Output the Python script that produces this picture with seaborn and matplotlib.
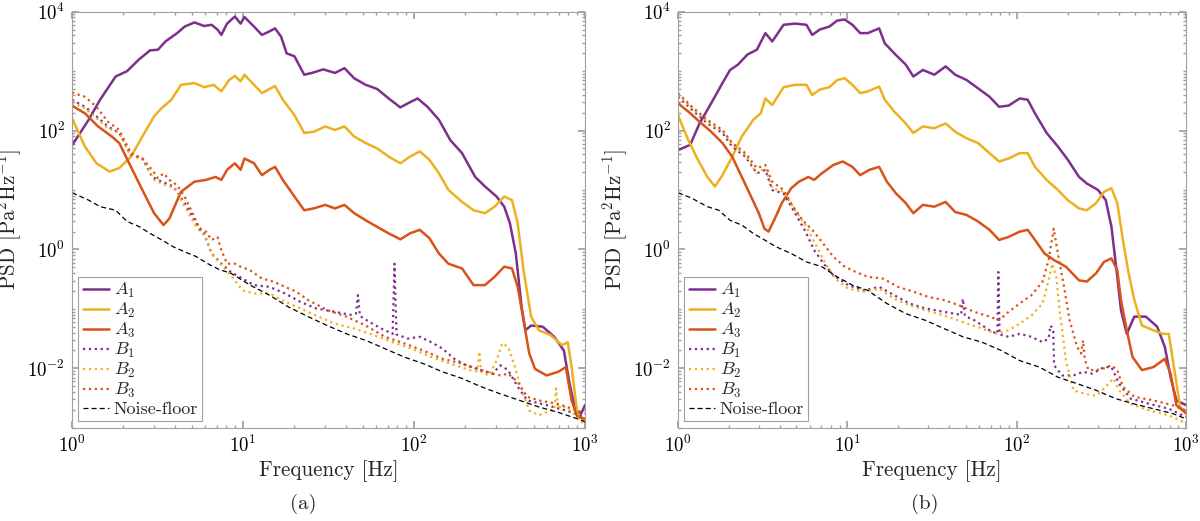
import numpy as np
import pandas as pd
import matplotlib
matplotlib.use("Agg")
import matplotlib.pyplot as plt
import seaborn as sns
from matplotlib.ticker import LogLocator, NullFormatter

# PSD curves, values as log10(PSD [Pa^2/Hz]) at freq [Hz]

# ---- panel (a)
a_A1_f = [1, 1.25, 1.46, 1.80, 2.10, 2.45, 2.86, 3.18, 3.52, 4.12, 4.56, 5.20, 5.92, 6.56, 7.09,
          7.47, 8.07, 8.96, 9.68, 10.2, 11.6, 12.9, 14.3, 15.4, 16.7, 18.0, 20.0, 22.8, 25.3, 29.5,
          34.5, 39.2, 44.7, 52.2, 60.9, 71.2, 83.2, 92.2, 105, 120, 140, 163, 191, 228, 260,
          304, 337, 364, 394, 426, 448, 484, 566, 661, 752, 813, 879, 950, 1000]
a_A1_p = [1.75, 2.18, 2.52, 2.91, 3.0, 3.19, 3.35, 3.36, 3.5, 3.64, 3.75, 3.82, 3.76, 3.78, 3.70,
          3.61, 3.80, 3.92, 3.80, 3.91, 3.75, 3.61, 3.67, 3.72, 3.58, 3.30, 3.25, 2.94, 2.97, 3.03,
          2.97, 3.05, 2.88, 2.77, 2.70, 2.54, 2.39, 2.46, 2.54, 2.40, 2.18, 1.84, 1.62, 1.22, 1.06,
          0.89, 0.72, 0.44, -0.07, -0.97, -1.36, -1.28, -1.30, -1.47, -1.70, -2.26, -2.71, -2.76, -2.62]

a_A2_f = [1, 1.19, 1.39, 1.66, 1.89, 2.21, 2.58, 3.02, 3.35, 3.81, 4.34, 5.20, 5.92, 6.73, 7.47,
          8.29, 8.96, 9.68, 10.2, 11.6, 12.9, 14.3, 15.4, 17.1, 20.0, 22.8, 25.9, 30.3, 34.5, 39.2,
          44.7, 52.2, 60.9, 71.2, 83.2, 94.6, 108, 123, 140, 159, 191, 223, 260, 296, 337,
          374, 404, 437, 484, 537, 628, 733, 793, 835, 902, 1000]
a_A2_p = [2.21, 1.73, 1.45, 1.31, 1.37, 1.56, 1.90, 2.24, 2.38, 2.52, 2.77, 2.80, 2.73, 2.77, 2.66,
          2.85, 2.92, 2.83, 2.94, 2.77, 2.63, 2.70, 2.75, 2.52, 2.26, 1.96, 1.98, 2.07, 2.01, 2.07,
          1.90, 1.79, 1.70, 1.56, 1.45, 1.56, 1.65, 1.51, 1.28, 1.0, 0.80, 0.66, 0.61, 0.72, 0.89,
          0.83, 0.44, -0.35, -1.13, -1.36, -1.44, -1.61, -1.56, -1.98, -2.76, -2.88]

a_A3_f = [1, 1.19, 1.42, 1.71, 1.89, 2.21, 2.58, 3.02, 3.43, 3.71, 4.34, 5.20, 6.07, 6.91, 7.47,
          8.07, 8.96, 9.68, 10.2, 11.6, 12.9, 14.3, 15.4, 17.1, 20.0, 22.8, 25.9, 30.3, 34.5, 39.2,
          44.7, 52.2, 60.9, 71.2, 83.2, 94.6, 108, 123, 140, 159, 191, 223, 260, 296, 337,
          374, 404, 437, 472, 510, 596, 696, 772, 835, 902, 1000]
a_A3_p = [2.42, 2.29, 2.07, 1.90, 1.79, 1.39, 1.0, 0.61, 0.41, 0.52, 0.97, 1.14, 1.17, 1.22, 1.17,
          1.34, 1.45, 1.34, 1.53, 1.45, 1.25, 1.34, 1.39, 1.17, 0.89, 0.66, 0.69, 0.75, 0.69, 0.75,
          0.61, 0.49, 0.38, 0.27, 0.17, 0.27, 0.33, 0.19, -0.07, -0.24, -0.32, -0.60, -0.60, -0.46, -0.29,
          -0.32, -0.63, -1.19, -1.75, -2.01, -2.12, -2.06, -1.98, -2.54, -2.82, -2.85]

a_B1_f = [1, 1.19, 1.39, 1.62, 1.89, 2.21, 2.58, 2.94, 3.35, 3.91, 4.56, 5.33, 5.92, 6.56, 7.47,
          8.50, 9.93, 11.6, 14.3, 17.6, 21.6, 26.6, 34.5, 42.4, 45.8, 47.0, 48.3, 54.9, 64.2, 75.0,
          76.9, 79.0, 92.2, 108, 126, 147, 172, 201, 247, 288, 320, 355, 404, 460, 596, 772, 1000]
a_B1_p = [2.52, 2.40, 2.24, 2.07, 1.96, 1.59, 1.53, 1.22, 1.14, 1.06, 0.78, 0.44, 0.27, -0.07, -0.24,
          -0.38, -0.49, -0.60, -0.63, -0.74, -0.88, -0.99, -1.05, -1.10, -1.08, -0.77, -1.12, -1.22, -1.33, -1.42,
          -0.24, -1.43, -1.50, -1.47, -1.56, -1.67, -1.84, -1.95, -2.03, -2.09, -1.95, -2.03, -2.31, -2.54, -2.62,
          -2.71, -2.82]

a_B2_f = [1, 1.19, 1.39, 1.62, 1.89, 2.21, 2.58, 3.02, 3.52, 4.01, 4.56, 5.33, 5.92, 6.73, 7.67,
          8.96, 9.93, 11.6, 14.3, 17.6, 21.6, 26.6, 34.5, 44.7, 57.9, 75.0, 97.1, 126, 163, 211,
          234, 241, 247, 274, 304, 328, 355, 384, 415, 472, 537, 628, 661, 678, 696, 733, 857, 1000]
a_B2_p = [2.47, 2.38, 2.21, 2.04, 1.96, 1.57, 1.52, 1.17, 1.08, 1.03, 0.72, 0.38, 0.24, -0.12, -0.29,
          -0.52, -0.69, -0.74, -0.74, -0.88, -0.99, -1.11, -1.25, -1.33, -1.44, -1.56, -1.67, -1.81, -1.92, -2.03,
          -2.05, -1.72, -2.06, -2.12, -1.87, -1.58, -1.64, -1.92, -2.26, -2.71, -2.79, -2.71, -2.70, -2.34, -2.68,
          -2.62, -2.76, -2.96]

a_B3_f = [1, 1.19, 1.39, 1.62, 1.89, 2.21, 2.58, 2.94, 3.18, 3.43, 3.71, 4.12, 4.56, 5.07, 5.62,
          6.07, 6.56, 7.09, 7.47, 8.07, 8.96, 9.68, 11.0, 12.9, 15.0, 17.6, 20.5, 24.0, 31.1, 40.3,
          52.2, 67.6, 87.6, 113, 147, 191, 247, 288, 320, 355, 404, 460, 537, 696, 902, 1000]
a_B3_p = [2.64, 2.57, 2.40, 2.15, 2.01, 1.62, 1.53, 1.34, 1.20, 1.28, 1.17, 1.08, 0.89, 0.61, 0.33,
          0.30, 0.16, 0.21, -0.01, -0.24, -0.24, -0.29, -0.35, -0.49, -0.54, -0.63, -0.71, -0.85, -1.02, -1.13,
          -1.28, -1.47, -1.58, -1.70, -1.84, -1.92, -2.03, -2.09, -2.12, -2.09, -2.23, -2.48, -2.54, -2.60, -2.71,
          -2.76]

a_N_f = [1, 1.25, 1.46, 1.80, 2.10, 2.45, 2.86, 3.35, 3.91, 4.56, 5.33, 6.23, 7.28, 8.50, 11.0,
         14.3, 18.5, 24.0, 31.1, 40.3, 52.2, 67.6, 87.6, 113, 147, 191, 247, 320, 415, 537,
         696, 902, 1000]
a_N_p = [0.955, 0.83, 0.72, 0.66, 0.47, 0.39, 0.27, 0.16, 0.045, -0.04, -0.12, -0.24, -0.34, -0.40, -0.60,
         -0.77, -0.97, -1.13, -1.28, -1.42, -1.53, -1.67, -1.81, -1.92, -2.06, -2.17, -2.31, -2.43, -2.54, -2.65,
         -2.74, -2.85, -2.90]

# ---- panel (b)
b_A1_f = [1, 1.18, 1.34, 1.57, 1.83, 2.03, 2.26, 2.57, 2.92, 3.28, 3.60, 4.20, 4.91, 5.73, 6.20,
          6.87, 7.83, 8.69, 9.64, 10.7, 11.9, 13.2, 15.4, 16.6, 18.9, 22.1, 24.5, 27.9, 32.6, 38.0,
          43.3, 50.6, 59.1, 69.0, 78.6, 89.4, 104, 116, 128, 150, 175, 200, 233, 259, 302,
          335, 362, 392, 412, 446, 494, 577, 674, 748, 809, 875, 1000]
b_A1_p = [1.67, 1.76, 2.12, 2.46, 2.80, 3.02, 3.11, 3.28, 3.36, 3.64, 3.50, 3.78, 3.80, 3.78, 3.61,
          3.70, 3.75, 3.85, 3.87, 3.78, 3.64, 3.64, 3.72, 3.47, 3.30, 3.11, 2.91, 3.02, 2.94, 3.08,
          2.94, 2.85, 2.71, 2.57, 2.40, 2.42, 2.54, 2.52, 2.29, 1.96, 1.73, 1.51, 1.22, 1.11, 1.0,
          0.83, 0.38, -0.46, -1.02, -1.42, -1.13, -1.13, -1.30, -1.64, -2.15, -2.54, -2.62]

b_A2_f = [1, 1.15, 1.31, 1.49, 1.65, 1.83, 2.09, 2.38, 2.78, 3.08, 3.28, 3.60, 4.20, 4.91, 5.73,
          6.20, 6.87, 7.83, 8.69, 9.64, 10.7, 11.9, 13.2, 15.4, 16.6, 18.9, 22.1, 24.5, 27.9, 32.6,
          38.0, 43.3, 50.6, 59.1, 69.0, 78.6, 89.4, 104, 116, 128, 150, 175, 200, 233, 259,
          294, 327, 362, 392, 423, 457, 494, 548, 640, 729, 789, 852, 921, 1000]
b_A2_p = [2.26, 1.84, 1.51, 1.22, 1.06, 1.25, 1.56, 1.90, 2.18, 2.29, 2.54, 2.43, 2.73, 2.77, 2.77,
          2.60, 2.69, 2.73, 2.85, 2.88, 2.77, 2.63, 2.66, 2.74, 2.52, 2.32, 2.12, 1.96, 2.07, 2.04,
          2.12, 1.98, 1.87, 1.79, 1.62, 1.48, 1.53, 1.62, 1.62, 1.39, 1.17, 1.0, 0.83, 0.69, 0.66,
          0.78, 0.97, 1.03, 0.78, 0.16, -0.40, -0.85, -1.28, -1.36, -1.42, -1.42, -2.03, -2.65, -2.76]

b_A3_f = [1, 1.15, 1.34, 1.57, 1.83, 2.09, 2.38, 2.70, 3.00, 3.24, 3.42, 3.69, 4.10, 4.66, 5.17,
          5.88, 6.36, 7.06, 8.24, 9.39, 10.7, 11.9, 13.5, 15.4, 17.1, 19.4, 22.1, 24.5, 27.9, 32.6,
          38.0, 43.3, 50.6, 59.1, 69.0, 78.6, 89.4, 104, 116, 128, 146, 166, 195, 233, 259,
          294, 327, 362, 392, 412, 446, 482, 548, 640, 748, 809, 875, 1000]
b_A3_p = [2.46, 2.32, 2.15, 1.98, 1.79, 1.56, 1.22, 0.89, 0.61, 0.35, 0.30, 0.49, 0.78, 1.03, 1.14,
          1.22, 1.17, 1.28, 1.42, 1.48, 1.39, 1.25, 1.34, 1.39, 1.14, 0.94, 0.78, 0.61, 0.75, 0.72,
          0.80, 0.63, 0.58, 0.47, 0.33, 0.16, 0.21, 0.30, 0.33, 0.16, -0.07, -0.18, -0.29, -0.52, -0.54,
          -0.40, -0.21, -0.15, -0.35, -0.85, -1.36, -1.81, -2.03, -1.98, -1.84, -2.09, -2.62, -2.76]

b_B1_f = [1, 1.21, 1.49, 1.83, 2.09, 2.50, 2.92, 3.28, 3.60, 4.20, 4.91, 5.59, 6.36, 7.24, 8.24,
          10.1, 12.5, 15.4, 18.9, 23.3, 28.6, 37.1, 46.9, 48.0, 49.4, 56.1, 69.0, 76.8, 77.8, 79.2,
          89.4, 104, 122, 142, 154, 158, 164, 166, 185, 216, 246, 279, 327, 362, 402,
          470, 608, 789, 1000]
b_B1_p = [2.57, 2.35, 2.12, 1.96, 1.73, 1.56, 1.28, 1.34, 1.0, 0.94, 0.61, 0.33, -0.01, -0.24, -0.43,
          -0.60, -0.69, -0.63, -0.77, -0.91, -0.99, -1.05, -1.10, -0.83, -1.12, -1.19, -1.36, -1.42, -0.38, -1.43,
          -1.47, -1.42, -1.47, -1.56, -1.50, -1.28, -1.35, -1.95, -2.12, -2.12, -2.06, -2.09, -1.98, -1.98, -2.26,
          -2.51, -2.60, -2.68, -2.82]

b_B2_f = [1, 1.21, 1.49, 1.83, 2.09, 2.50, 2.92, 3.28, 3.60, 4.20, 4.91, 5.73, 6.53, 7.43, 8.46,
          10.1, 12.5, 15.4, 18.9, 23.3, 28.6, 37.1, 48.0, 62.2, 76.8, 89.4, 104, 122, 142, 154,
          162, 171, 180, 195, 216, 252, 294, 327, 372, 402, 470, 608, 789, 1000]
b_B2_p = [2.60, 2.38, 2.15, 1.99, 1.76, 1.59, 1.28, 1.37, 1.03, 0.97, 0.66, 0.38, 0.07, -0.24, -0.49,
          -0.66, -0.71, -0.66, -0.83, -0.94, -1.02, -1.11, -1.22, -1.33, -1.42, -1.36, -1.25, -1.11, -0.91, -0.52,
          -0.24, -0.46, -1.08, -1.87, -2.37, -2.43, -2.46, -2.34, -2.17, -2.37, -2.60, -2.71, -2.79, -2.93]

b_B3_f = [1, 1.21, 1.49, 1.83, 2.09, 2.50, 2.92, 3.28, 3.60, 4.20, 4.78, 5.45, 6.20, 7.06, 8.24,
          9.64, 11.2, 13.2, 16.2, 19.9, 24.5, 30.1, 37.1, 45.6, 56.1, 69.0, 78.6, 89.4, 104, 122,
          142, 154, 165, 175, 190, 205, 227, 240, 246, 252, 265, 294, 327, 362, 392,
          423, 494, 640, 830, 1000]
b_B3_p = [2.63, 2.40, 2.18, 2.01, 1.79, 1.62, 1.37, 1.42, 1.14, 1.0, 0.72, 0.49, 0.33, 0.13, -0.12,
          -0.29, -0.38, -0.46, -0.49, -0.63, -0.71, -0.80, -0.85, -0.94, -1.05, -1.13, -1.19, -1.05, -0.91, -0.77,
          -0.54, -0.18, 0.35, -0.07, -0.63, -1.19, -1.64, -1.75, -1.53, -1.85, -2.03, -2.03, -2.0, -1.95, -2.03,
          -2.31, -2.48, -2.54, -2.62, -2.71]

b_N_f = [1, 1.21, 1.49, 1.74, 2.03, 2.38, 2.78, 3.24, 3.79, 4.67, 5.73, 7.06, 8.69, 10.7, 13.2,
         17.1, 22.1, 28.7, 37.1, 48.1, 62.2, 80.9, 104, 136, 175, 228, 294, 383, 494, 640,
         830, 1000]
b_N_p = [0.955, 0.86, 0.72, 0.66, 0.49, 0.41, 0.27, 0.16, 0.045, -0.07, -0.21, -0.29, -0.46, -0.60, -0.69,
         -0.91, -1.08, -1.19, -1.33, -1.47, -1.56, -1.70, -1.87, -1.98, -2.15, -2.26, -2.37, -2.51, -2.60, -2.68,
         -2.76, -2.85]

labels = [r"$A_1$", r"$A_2$", r"$A_3$", r"$B_1$", r"$B_2$", r"$B_3$", "Noise-floor"]
x_ticks = [1, 10, 100, 1000]
y_ticks = [1e-2, 1e0, 1e2, 1e4]

panels = {
    "a": [(a_A1_f, a_A1_p), (a_A2_f, a_A2_p), (a_A3_f, a_A3_p),
          (a_B1_f, a_B1_p), (a_B2_f, a_B2_p), (a_B3_f, a_B3_p), (a_N_f, a_N_p)],
    "b": [(b_A1_f, b_A1_p), (b_A2_f, b_A2_p), (b_A3_f, b_A3_p),
          (b_B1_f, b_B1_p), (b_B2_f, b_B2_p), (b_B3_f, b_B3_p), (b_N_f, b_N_p)],
}

purple, yellow, orange = "#7E2F8E", "#EDB120", "#D95319"
styles = [
    dict(color=purple, linestyle="-", linewidth=1.8),
    dict(color=yellow, linestyle="-", linewidth=1.8),
    dict(color=orange, linestyle="-", linewidth=1.8),
    dict(color=purple, linestyle=":", linewidth=1.6),
    dict(color=yellow, linestyle=":", linewidth=1.6),
    dict(color=orange, linestyle=":", linewidth=1.6),
    dict(color="black", linestyle=(0, (4, 2.5)), linewidth=0.9),
]

sns.set_theme(style="ticks")
plt.rcParams["font.family"] = ["cmr10", "DejaVu Serif"]
plt.rcParams["mathtext.fontset"] = "cm"
plt.rcParams["axes.unicode_minus"] = False
plt.rcParams["axes.formatter.use_mathtext"] = True

gray = "#a0a0a0"
fig = plt.figure(figsize=(12, 5.21), dpi=100)
ax_a = fig.add_axes([0.06, 0.179, 0.4275, 0.7985])
ax_b = fig.add_axes([0.565, 0.179, 0.4235, 0.7985])

for key, ax in [("a", ax_a), ("b", ax_b)]:
    for (f, p), lab, st in zip(panels[key], labels, styles):
        df = pd.DataFrame({"freq": f, "psd": np.power(10.0, p)})
        sns.lineplot(data=df, x="freq", y="psd", ax=ax, label=lab,
                     estimator=None, sort=False, **st)

    ax.set_xscale("log")
    ax.set_yscale("log")
    ax.set_xticks(x_ticks)
    ax.set_yticks(y_ticks)
    ax.set_xlim(1, 1000)
    ax.set_ylim(1e-3, 1e4)
    ax.yaxis.set_minor_locator(LogLocator(base=10, subs=np.arange(1, 10), numticks=30))
    ax.yaxis.set_minor_formatter(NullFormatter())
    ax.xaxis.set_minor_locator(LogLocator(base=10, subs=np.arange(2, 10), numticks=30))
    ax.xaxis.set_minor_formatter(NullFormatter())
    ax.tick_params(which="both", direction="in", top=True, right=True, color=gray,
                   labelsize=13.5, labelcolor="black")
    ax.tick_params(which="major", length=5, pad=5)
    ax.tick_params(which="minor", length=2.5)
    for sp in ax.spines.values():
        sp.set_color(gray)
        sp.set_linewidth(0.8)

    ax.set_xlabel("Frequency [Hz]", fontsize=15.2, labelpad=3)
    ax.set_ylabel(r"PSD [Pa$^2$Hz$^{-1}$]", fontsize=15.2)
    ax.yaxis.set_label_coords(-0.094, 0.5)

    leg = ax.legend(loc="lower left", fontsize=13, frameon=True, fancybox=False,
                    framealpha=1, edgecolor=gray, handlelength=1.45, handletextpad=0.25,
                    labelspacing=0.05, borderpad=0.25, borderaxespad=0.35)
    leg.get_frame().set_linewidth(0.8)

fig.text(0.253, 0.033, "(a)", fontsize=15, ha="center", va="center")
fig.text(0.771, 0.033, "(b)", fontsize=15, ha="center", va="center")

fig.savefig("out.png", dpi=100)
